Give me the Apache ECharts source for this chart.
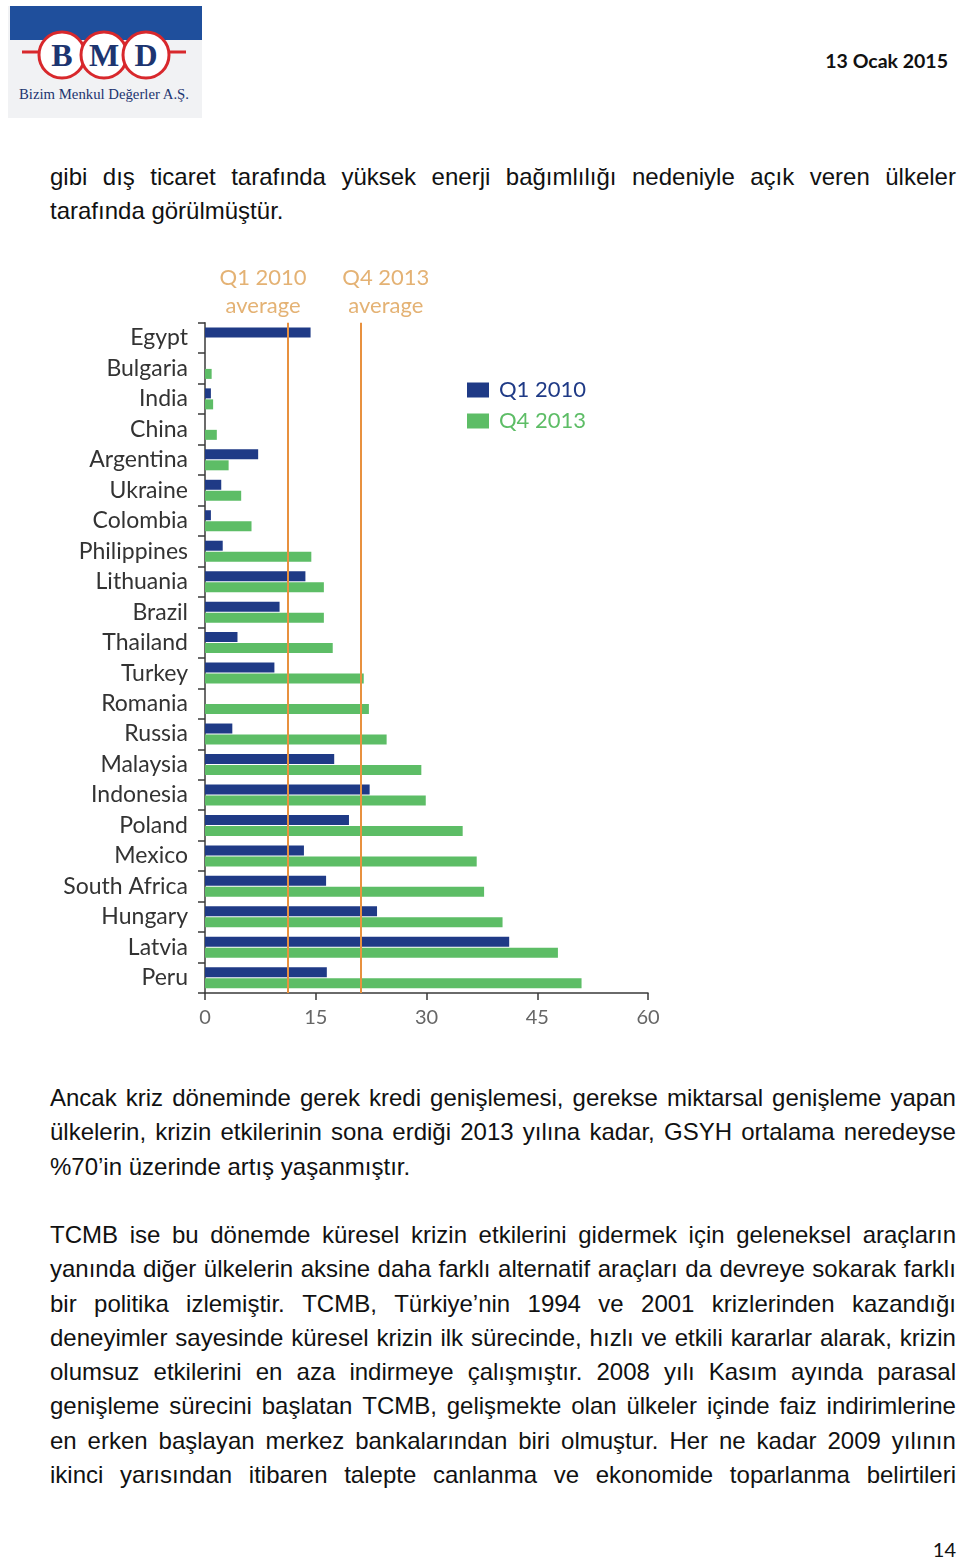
<!DOCTYPE html>
<html>
<head>
<meta charset="utf-8">
<script src="https://cdn.jsdelivr.net/npm/echarts@6/dist/echarts.min.js"></script>
<style>
  html, body { margin: 0; padding: 0; background: #fff; }
  body { width: 960px; height: 1559px; position: relative; overflow: hidden; }
  #logo { position: absolute; left: 8px; top: 6px; }
  .date { position: absolute; right: 12px; top: 49px; font-family: Lato, "Open Sans", sans-serif; font-weight: bold; font-size: 19.5px; color: #111; }
  .pnum { position: absolute; right: 4px; top: 1537px; font-family: Lato, "Open Sans", sans-serif; font-size: 20px; color: #111; }
  .para { position: absolute; left: 50px; width: 906px; font-family: "Liberation Sans", Arial, sans-serif; font-size: 24px; color: #111; }
  .line { height: 34.3px; line-height: 34.3px; white-space: nowrap; }
  .line.j { display: flex; justify-content: space-between; }
  #chart { position: absolute; left: 0; top: 240px; width: 960px; height: 820px; }
</style>
</head>
<body>
<svg id="logo" width="194" height="112" viewBox="0 0 194 112">
  <rect x="0" y="0" width="194" height="112" fill="#f1f2f4"/>
  <rect x="2" y="0" width="192" height="34" fill="#1f4f9c"/>
  <line x1="14" y1="46" x2="178" y2="46" stroke="#d8282c" stroke-width="3"/>
  <circle cx="54" cy="49" r="23" fill="#fff" stroke="#d8282c" stroke-width="3"/>
  <circle cx="96" cy="49" r="23" fill="#fff" stroke="#d8282c" stroke-width="3"/>
  <circle cx="138" cy="49" r="23" fill="#fff" stroke="#d8282c" stroke-width="3"/>
  <text x="54" y="60" text-anchor="middle" font-family="Liberation Serif, serif" font-weight="bold" font-size="32" fill="#1d3570">B</text>
  <text x="96" y="60" text-anchor="middle" font-family="Liberation Serif, serif" font-weight="bold" font-size="32" fill="#1d3570">M</text>
  <text x="138" y="60" text-anchor="middle" font-family="Liberation Serif, serif" font-weight="bold" font-size="32" fill="#1d3570">D</text>
  <text x="11" y="93" font-family="Liberation Serif, serif" font-size="14" fill="#1d3570" textLength="170" lengthAdjust="spacingAndGlyphs">Bizim Menkul Değerler A.Ş.</text>
</svg>
<div class="date">13 Ocak 2015</div>

<div class="para" id="p1" style="top:160px"></div>
<div class="para" id="p2" style="top:1081px"></div>
<div class="para" id="p3" style="top:1218px"></div>

<div id="chart"></div>
<div class="pnum">14</div>

<script>
// ---- chart data ----
var categories = ['Egypt', 'Bulgaria', 'India', 'China', 'Argentina', 'Ukraine', 'Colombia', 'Philippines', 'Lithuania', 'Brazil', 'Thailand', 'Turkey', 'Romania', 'Russia', 'Malaysia', 'Indonesia', 'Poland', 'Mexico', 'South Africa', 'Hungary', 'Latvia', 'Peru'];
var q1_2010 = [14.3, null, 0.8, null, 7.2, 2.2, 0.8, 2.4, 13.6, 10.1, 4.4, 9.4, null, 3.7, 17.5, 22.3, 19.5, 13.4, 16.4, 23.3, 41.2, 16.5];
var q4_2013 = [null, 0.9, 1.1, 1.6, 3.2, 4.9, 6.3, 14.4, 16.1, 16.1, 17.3, 21.5, 22.2, 24.6, 29.3, 29.9, 34.9, 36.8, 37.8, 40.3, 47.8, 51.0];
var seriesNames = ['Q1 2010', 'Q4 2013'];
var averages = [11.25, 21.1];
var averageLabels = ['Q1 2010\naverage', 'Q4 2013\naverage'];
var xTicks = [0, 15, 30, 45, 60];

// ---- page text ----
var para1 = [
  'gibi dış ticaret tarafında yüksek enerji bağımlılığı nedeniyle açık veren ülkeler',
  'tarafında görülmüştür.'
];
var para2 = [
  'Ancak kriz döneminde gerek kredi genişlemesi, gerekse miktarsal genişleme yapan',
  'ülkelerin, krizin etkilerinin sona erdiği 2013 yılına kadar, GSYH ortalama neredeyse',
  '%70’in üzerinde artış yaşanmıştır.'
];
var para3 = [
  'TCMB ise bu dönemde küresel krizin etkilerini gidermek için geleneksel araçların',
  'yanında diğer ülkelerin aksine daha farklı alternatif araçları da devreye sokarak farklı',
  'bir politika izlemiştir. TCMB, Türkiye’nin 1994 ve 2001 krizlerinden kazandığı',
  'deneyimler sayesinde küresel krizin ilk sürecinde, hızlı ve etkili kararlar alarak, krizin',
  'olumsuz etkilerini en aza indirmeye çalışmıştır. 2008 yılı Kasım ayında parasal',
  'genişleme sürecini başlatan TCMB, gelişmekte olan ülkeler içinde faiz indirimlerine',
  'en erken başlayan merkez bankalarından biri olmuştur. Her ne kadar 2009 yılının',
  'ikinci yarısından itibaren talepte canlanma ve ekonomide toparlanma belirtileri'
];

function fill(id, lines, lastJustified) {
  var el = document.getElementById(id);
  lines.forEach(function (txt, i) {
    var d = document.createElement('div');
    var justify = (i < lines.length - 1) || lastJustified;
    d.className = 'line' + (justify ? ' j' : '');
    if (justify) {
      txt.split(' ').forEach(function (w) {
        var s = document.createElement('span');
        s.textContent = w;
        d.appendChild(s);
      });
    } else {
      d.textContent = txt;
    }
    el.appendChild(d);
  });
}
fill('p1', para1, false);
fill('p2', para2, false);
fill('p3', para3, true);

// ---- chart ----
var NAVY = '#1f3a86', GREEN = '#5dbd66', ORANGE = '#e8913f', TAN = '#e4b274';
var FONT = 'Lato, "Open Sans", sans-serif';
var chart = echarts.init(document.getElementById('chart'), null, { renderer: 'canvas' });
chart.setOption({
  animation: false,
  textStyle: { fontFamily: FONT },
  grid: { left: 205, top: 82.7, width: 443, height: 670.3, containLabel: false },
  legend: {
    orient: 'vertical', left: 462, top: 134, itemWidth: 22, itemHeight: 15, itemGap: 9,
    icon: 'rect',
    textStyle: { fontSize: 22, fontFamily: FONT, lineHeight: 22, padding: [0, 0, 0, 5] },
    data: [
      { name: seriesNames[0], textStyle: { color: NAVY } },
      { name: seriesNames[1], textStyle: { color: GREEN } }
    ]
  },
  xAxis: {
    type: 'value', min: xTicks[0], max: xTicks[xTicks.length - 1], interval: 15,
    axisLine: { show: true, lineStyle: { color: '#3a3a3a', width: 1.5 } },
    axisTick: { show: true, length: 7, lineStyle: { color: '#3a3a3a', width: 1.5 } },
    axisLabel: { color: '#666', fontSize: 20, margin: 15, fontFamily: FONT },
    splitLine: { show: false }
  },
  yAxis: {
    type: 'category', data: categories, inverse: true,
    axisLine: { show: true, lineStyle: { color: '#3a3a3a', width: 1.5 } },
    axisTick: { show: true, length: 7, lineStyle: { color: '#3a3a3a', width: 1.5 } },
    axisLabel: { color: '#333', fontSize: 23, margin: 17, fontFamily: FONT }
  },
  series: [
    {
      name: seriesNames[0], type: 'bar', data: q1_2010, barWidth: 10, barGap: '10%',
      itemStyle: { color: NAVY },
      markLine: {
        silent: true, symbol: 'none', z: 10,
        lineStyle: { color: ORANGE, width: 2, type: 'solid' },
        label: {
          show: true, position: 'start', color: TAN, fontSize: 22, lineHeight: 28,
          fontFamily: FONT, distance: 3, formatter: function (p) { return p.name; }
        },
        data: [
          { name: averageLabels[0], xAxis: averages[0], label: { offset: [-25, 0] } },
          { name: averageLabels[1], xAxis: averages[1], label: { offset: [25, 0] } }
        ]
      }
    },
    {
      name: seriesNames[1], type: 'bar', data: q4_2013, barWidth: 10, barGap: '10%',
      itemStyle: { color: GREEN }
    }
  ]
});
</script>
</body>
</html>
